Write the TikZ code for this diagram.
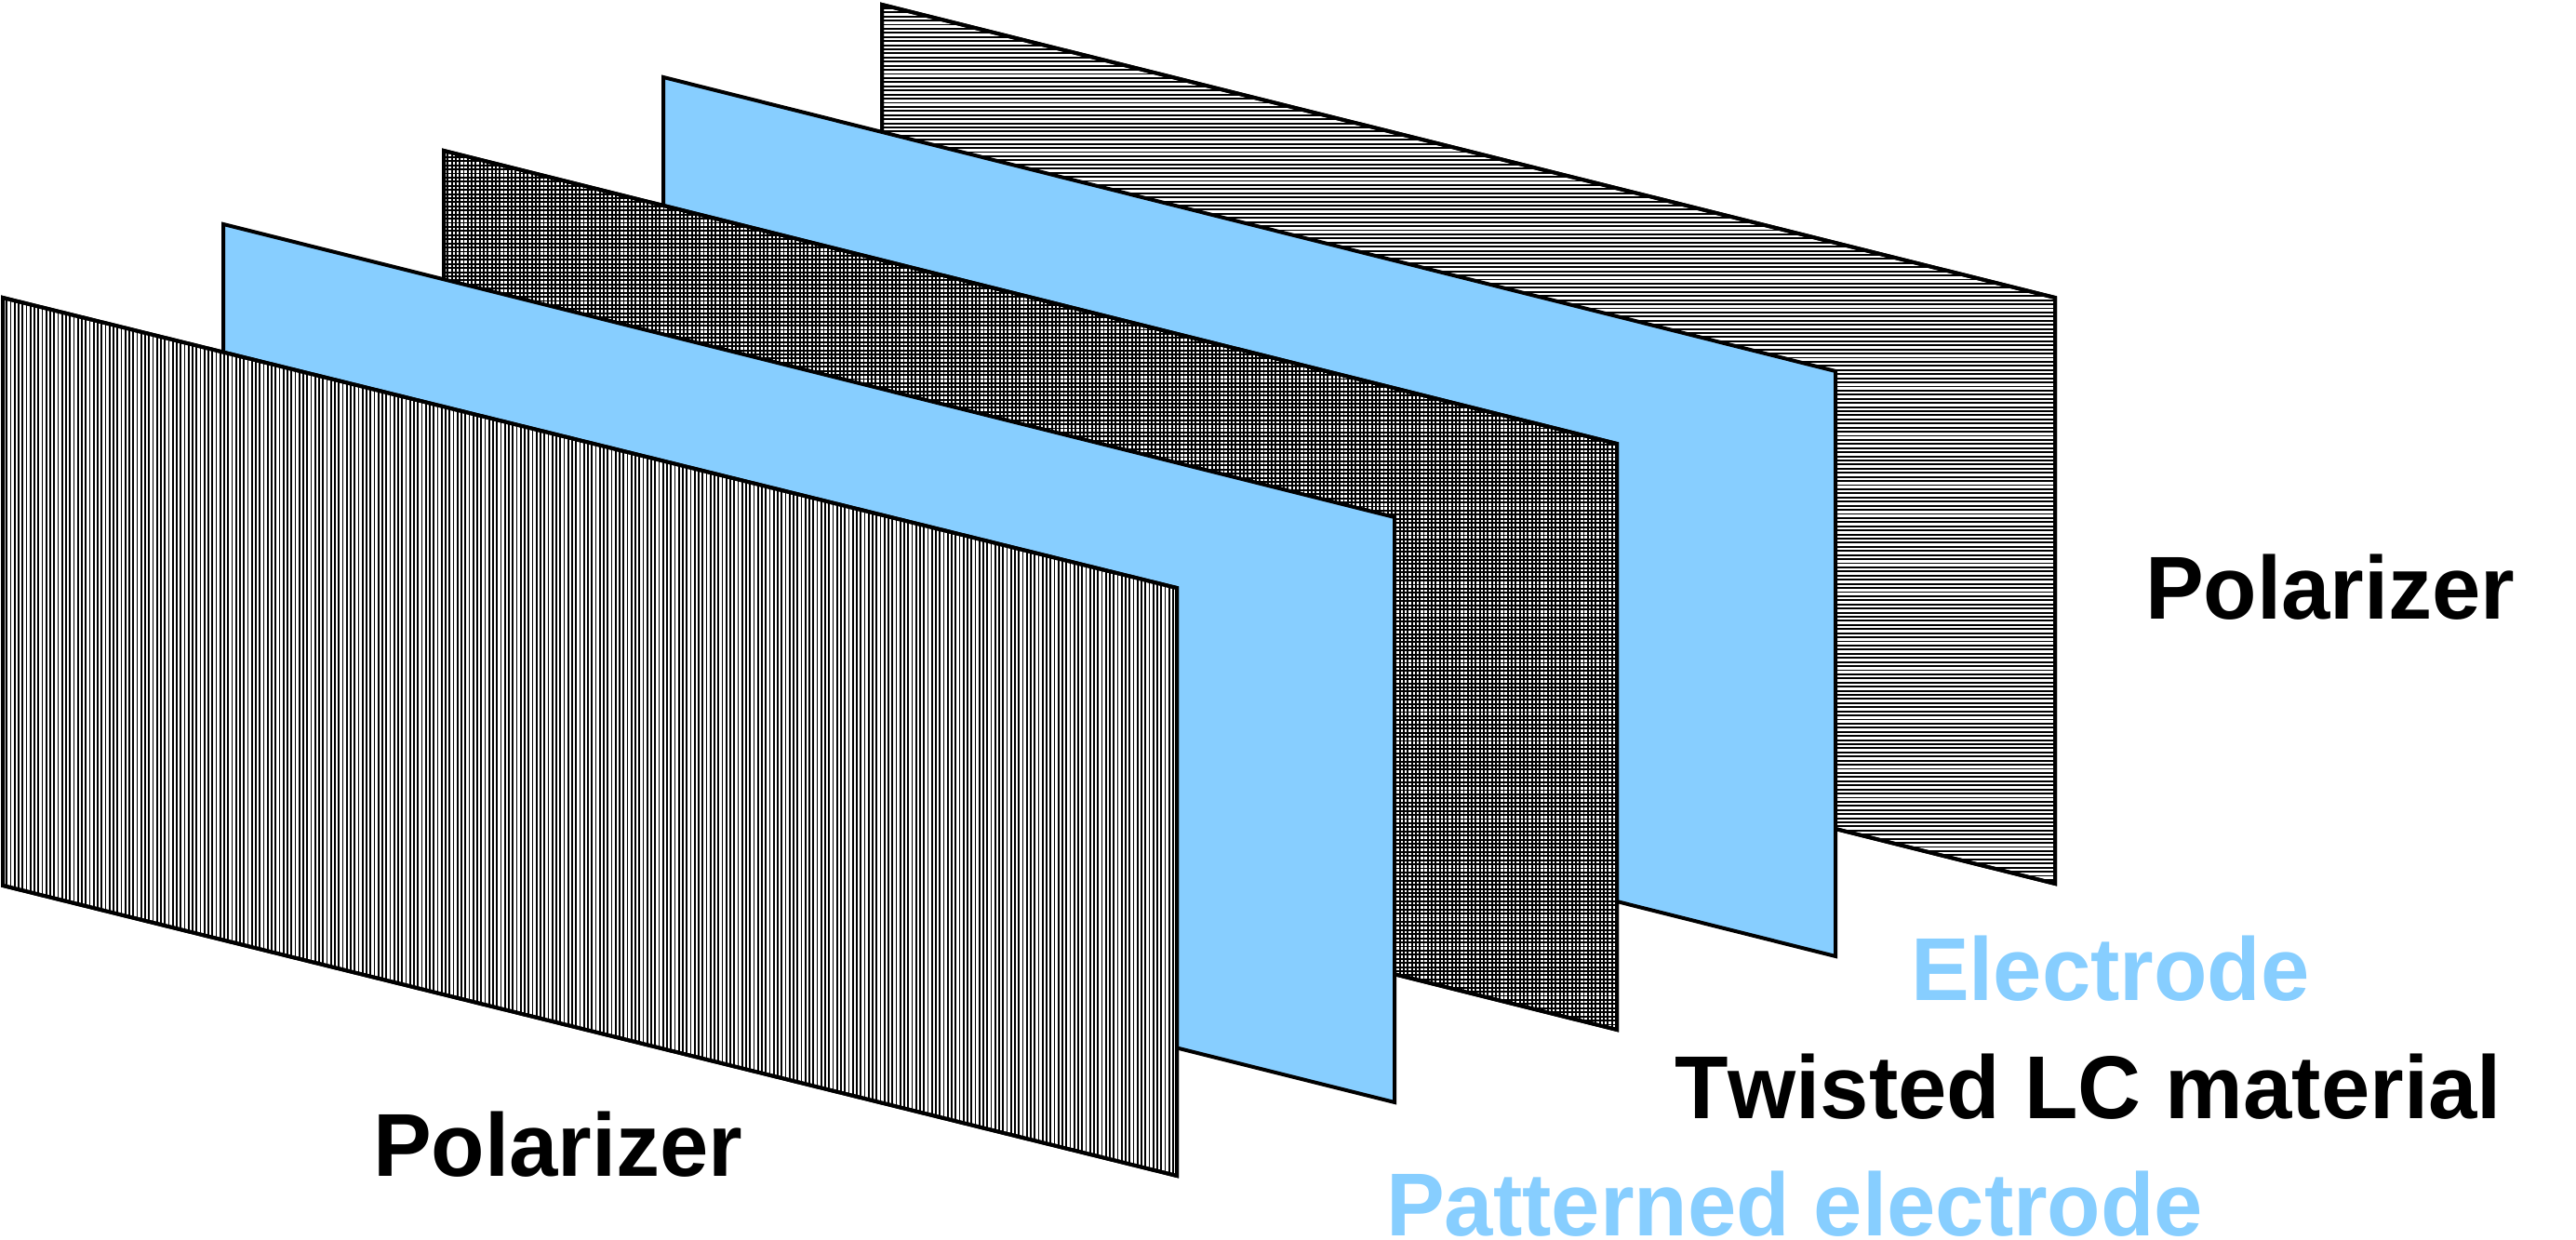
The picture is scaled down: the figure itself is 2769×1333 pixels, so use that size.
\documentclass[tikz,border=0pt]{standalone}
\usepackage{fontspec}
\setmainfont{Liberation Sans}[FakeStretch=0.98,Kerning=Off]
\definecolor{lcdblue}{RGB}{135,206,255}
\tikzset{
  panel/.style={draw=black,line width=4*0.25pt,line join=miter},
  bluepanel/.style={panel,fill=lcdblue},
  whitepanel/.style={panel,fill=white},
  hatchline/.style={draw=black,line width=1.9*0.25pt},
  lab/.style={anchor=base west,inner sep=0pt,outer sep=0pt,font=\fontsize{24pt}{24pt}\selectfont\bfseries},
}
\begin{document}
\begin{tikzpicture}[x=0.25pt,y=-0.25pt]
\useasboundingbox (0,0) rectangle (2769,1333);
\clip (0,0) rectangle (2769,1333);
% back polarizer
\coordinate (p5a) at (948,5); \coordinate (p5b) at (2209,320); \coordinate (p5c) at (2209,950); \coordinate (p5d) at (948,635);
\draw[whitepanel] (p5a)--(p5b)--(p5c)--(p5d)--cycle;
\begin{scope}
\clip (p5a)--(p5b)--(p5c)--(p5d)--cycle;
\foreach \y in {0,4.42,...,960} \draw[hatchline] (940,\y)--(2215,\y);
\end{scope}
\draw[panel] (p5a)--(p5b)--(p5c)--(p5d)--cycle;
% rear electrode
\draw[bluepanel] (713,83)--(1973,399)--(1973,1028)--(713,712)--cycle;
% LC
\coordinate (p3a) at (477,162); \coordinate (p3b) at (1738,477); \coordinate (p3c) at (1738,1107); \coordinate (p3d) at (477,792);
\draw[whitepanel] (p3a)--(p3b)--(p3c)--(p3d)--cycle;
\begin{scope}
\clip (p3a)--(p3b)--(p3c)--(p3d)--cycle;
\foreach \y in {160,164.42,...,1110} \draw[hatchline] (470,\y)--(1745,\y);
\foreach \x in {477,481.3,...,1740} \draw[hatchline] (\x,160)--(\x,1110);
\end{scope}
\draw[panel] (p3a)--(p3b)--(p3c)--(p3d)--cycle;
% front electrode
\draw[bluepanel] (240,241)--(1499,556)--(1499,1185)--(240,870)--cycle;
% front polarizer
\coordinate (p1a) at (3,320); \coordinate (p1b) at (1265,632); \coordinate (p1c) at (1265,1264); \coordinate (p1d) at (3,952);
\draw[whitepanel] (p1a)--(p1b)--(p1c)--(p1d)--cycle;
\begin{scope}
\clip (p1a)--(p1b)--(p1c)--(p1d)--cycle;
\foreach \x in {3,7.25,...,1270} \draw[hatchline] (\x,315)--(\x,1270);
\end{scope}
\draw[panel] (p1a)--(p1b)--(p1c)--(p1d)--cycle;
% labels
\node[lab] (polright) at (2306,666) {Polarizer};
\node[lab] (polleft) at (401,1264) {Polarizer};
\node[lab,text=lcdblue] (elec) at (2054,1076) {Electrode};
\node[lab] (twisted) at (1800,1202) {Twisted LC material};
\node[lab,text=lcdblue] (patt) at (1490,1328) {Patterned electrode};
\end{tikzpicture}
\end{document}
